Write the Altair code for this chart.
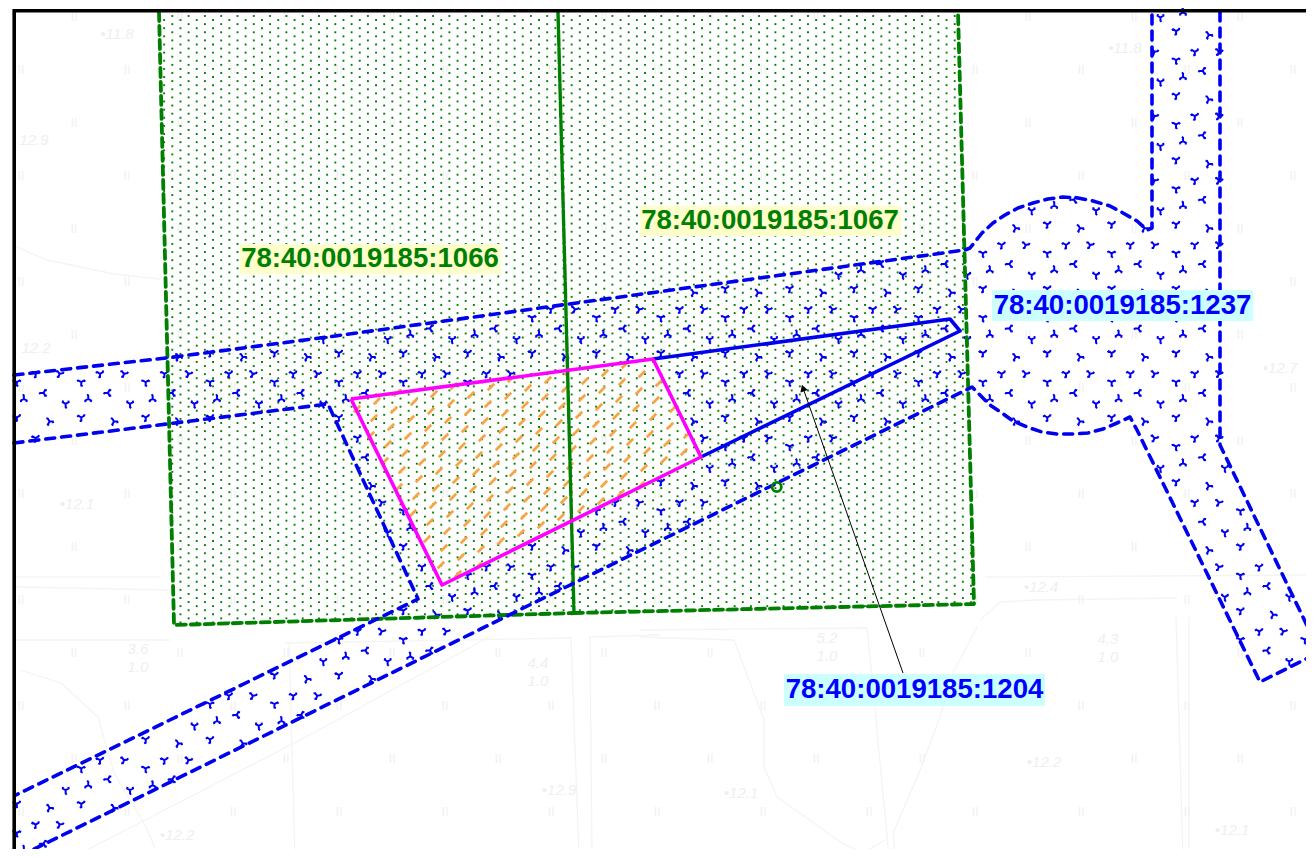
import altair as alt
import pandas as pd

# Outlines, in image pixels
green_left_x = [159, 174, 574]
green_left_y = [12, 625, 613]
green_mid_x = [558, 574]
green_mid_y = [12, 613]
green_right_x = [574, 974, 958]
green_right_y = [613, 604, 12]
blue_outline_x = [14, 166, 320, 635, 965, 970, 982, 993, 1005, 1018, 1033, 1048, 1063, 1078, 1093, 1110, 1123, 1137, 1147, 1152, 1152]
blue_outline_y = [375, 358, 338, 295, 250, 248, 233, 223, 215, 208, 203, 199, 197, 198, 201, 206, 213, 221, 230, 228, 12]
blue_right_x = [1220, 1220, 1314]
blue_right_y = [12, 445, 640]
blue_low_x = [1314, 1260, 1137, 1130, 1117, 1103, 1088, 1073, 1057, 1042, 1027, 1013, 1002, 990, 980, 972, 16]
blue_low_y = [655, 682, 430, 417, 423, 429, 433, 434, 434, 432, 427, 421, 413, 405, 395, 387, 858]
blue_up_x = [14, 328, 418, 16]
blue_up_y = [443, 404, 599, 795]
solid_x = [653, 950, 960, 701]
solid_y = [359, 319, 331, 457]
pink_x = [351, 653, 701, 442, 351]
pink_y = [399, 359, 457, 585, 399]
leader_x = [903, 803]
leader_y = [673, 388]

labels = ["78:40:0019185:1066", "78:40:0019185:1067", "78:40:0019185:1237", "78:40:0019185:1204"]
label_cx = [370, 770, 1122.5, 914.5]
label_cy = [259, 221, 305.5, 690]
label_x1 = [240, 640, 992, 784]
label_x2 = [501, 901, 1253, 1045]
label_y1 = [244, 206, 290, 674]
label_y2 = [274, 236, 321, 706]
label_fill = ["#ffffcc", "#ffffcc", "#ccffff", "#ccffff"]
label_ink = ["#008000", "#008000", "#0000ff", "#0000ff"]

# One repeat of the blue glyph texture, read from the circle area
tile_x = [1047.3, 1080, 1066, 1090, 1047.3, 1074, 1054.3, 1096]
tile_y = [224.3, 228.3, 245, 245, 253.3, 264, 270, 275]
tile_angle = [180, 90, 180, 200, 60, 30, 120, 300]
tile_step = 64.4

faint_text = ["•11.8", "12.9", "12.2", "•12.1", "•11.8", "•12.7", "•12.4", "•12.2", "•12.1", "•12.1", "•12.2", "•12.9",
              "3.6", "1.0", "4.4", "1.0", "5.2", "1.0", "4.3", "1.0"]
faint_x = [117, 34, 36, 77, 1125, 1280, 1041, 1044, 741, 1232, 177, 559, 138, 138, 538, 538, 827, 827, 1108, 1108]
faint_y = [34, 140, 348, 504, 48, 368, 587, 762, 793, 830, 835, 790, 649, 667, 663, 681, 638, 656, 639, 657]
faint_lines = [
    [(17, 247), (47, 260), (114, 274), (160, 279)],
    [(285, 643), (571, 638), (579, 857)],
    [(589, 637), (660, 635)],
    [(590, 637), (592, 857)],
    [(289, 643), (295, 857)],
    [(20, 670), (61, 683), (98, 717), (114, 773), (146, 827), (159, 857)],
    [(73, 857), (151, 817), (306, 737), (489, 637)],
    [(640, 630), (867, 628), (872, 677), (889, 857)],
    [(640, 637), (734, 640), (764, 720), (764, 767), (777, 797), (842, 843), (863, 853), (885, 840)],
    [(977, 627), (953, 673), (940, 717), (919, 773), (893, 833), (895, 857)],
    [(1189, 617), (1189, 857)],
    [(1176, 617), (1183, 857)],
    [(985, 577), (1314, 575)],
    [(1035, 600), (1177, 598)],
    [(16, 577), (160, 577)],
    [(16, 587), (170, 590)],
    [(16, 640), (170, 640)],
    [(980, 620), (1000, 602), (1035, 600)],
]


def inside(px, py, xs, ys):
    hit = False
    n = len(xs)
    for i in range(n):
        j = (i - 1) % n
        if (ys[i] > py) != (ys[j] > py):
            if px < xs[i] + (py - ys[i]) * (xs[j] - xs[i]) / (ys[j] - ys[i]):
                hit = not hit
    return hit


def clear_of_text(x, y):
    for a, b, c, d in zip(label_x1, label_x2, label_y1, label_y2):
        if a - 8 < x < b + 8 and c - 10 < y < d + 10:
            return False
    for a, b in zip(faint_x, faint_y):
        if abs(x - a) < 30 and abs(y - b) < 17:
            return False
    return True


blue_area_x = blue_outline_x + blue_right_x + blue_low_x + [16, 418, 328, 14]
blue_area_y = blue_outline_y + blue_right_y + blue_low_y + [795, 599, 404, 443]

# Repeating hatch textures: regular lattices clipped to their outlines
rows = []
for r in range(-2, 20):
    for c in range(-2, 16):
        x = 74 + c * 106 + (53 if r % 2 else 0)
        y = 17 + r * 53
        if 18 < x < 1296 and 16 < y < 840 and clear_of_text(x, y):
            rows.append({"x": x, "y": y})
faint_marks = pd.DataFrame(rows)

rows = []
green_area_x = [159, 174, 974, 958]
green_area_y = [12, 625, 604, 12]
for r in range(160):
    for c in range(55):
        x = 172.3 - 16.3 + c * 16.3 + (8.15 if r % 2 else 0)
        y = 16 + r * 4.07
        if inside(x, y, green_area_x, green_area_y):
            rows.append({"x": x, "y": y})
green_dots = pd.DataFrame(rows)

rows = []
for tx, ty, ta in zip(tile_x, tile_y, tile_angle):
    for i in range(-18, 6):
        for j in range(-5, 11):
            x = tx + i * tile_step
            y = ty + j * tile_step
            if inside(x, y, blue_area_x, blue_area_y) and not inside(x, y, pink_x[:-1], pink_y[:-1]):
                rows.append({"x": x, "y": y, "a": ta})
blue_glyphs = pd.DataFrame(rows)

rows = []
for i in range(-10, 40):
    for j in range(-10, 40):
        x = 340 + i * 20 - j * 3
        y = 400 - i * 8 + j * 17
        if inside(x, y, pink_x[:-1], pink_y[:-1]):
            rows.append({"x": x, "y": y})
orange_marks = pd.DataFrame(rows)

W, H = 1298, 841
X = alt.Scale(domain=[8, 8 + W], nice=False, zero=False)
Y = alt.Scale(domain=[8 + H, 8], nice=False, zero=False)
ex = alt.X("x:Q", scale=X, axis=None)
ey = alt.Y("y:Q", scale=Y, axis=None)


def path(xs, ys, color, width, dash=None):
    df = pd.DataFrame({"x": xs, "y": ys, "o": range(len(xs))})
    kw = {"color": color, "strokeWidth": width, "clip": True, "strokeCap": "round" if dash else "butt", "strokeJoin": "round"}
    if dash:
        kw["strokeDash"] = dash
    return alt.Chart(df).mark_line(**kw).encode(x=ex, y=ey, order="o:Q")


layers = []
for line in faint_lines:
    layers.append(path([p[0] for p in line], [p[1] for p in line], "#f4f4f4", 1.3))
layers.append(alt.Chart(faint_marks).mark_text(text="II", fontSize=13, font="Liberation Sans", color="#f1f1f1").encode(x=ex, y=ey))
layers.append(alt.Chart(pd.DataFrame({"x": faint_x, "y": faint_y, "t": faint_text})).mark_text(fontSize=15, fontStyle="italic", font="Liberation Sans", color="#efefef").encode(x=ex, y=ey, text="t:N"))

layers.append(alt.Chart(green_dots).mark_point(shape="square", filled=True, size=3.6, color="#008000", opacity=1, clip=True).encode(x=ex, y=ey))

glyph = "M0,0L0,-1L0.5,-1.15M0,0L-0.9,0.55L-1,1M0,0L0.9,0.55L1.3,0.25"
layers.append(alt.Chart(blue_glyphs).mark_point(shape=glyph, filled=False, size=42, strokeWidth=2, color="#0000f0", opacity=1, clip=True).encode(x=ex, y=ey, angle=alt.Angle("a:Q", scale=None)))
layers.append(alt.Chart(orange_marks).mark_point(shape="M-1,1L1,-1", filled=False, size=42, strokeWidth=2.6, color="#f7a445", opacity=1).encode(x=ex, y=ey))

layers.append(path(green_left_x, green_left_y, "#008000", 3.8, [9, 5]))
layers.append(path(green_right_x, green_right_y, "#008000", 3.8, [9, 5]))
layers.append(path(green_mid_x, green_mid_y, "#008000", 3.4, [16, 2]))
layers.append(path(blue_outline_x, blue_outline_y, "#0000f0", 3.6, [9, 7]))
layers.append(path(blue_right_x, blue_right_y, "#0000f0", 3.6, [9, 7]))
layers.append(path(blue_low_x, blue_low_y, "#0000f0", 3.6, [9, 7]))
layers.append(path(blue_up_x, blue_up_y, "#0000f0", 3.6, [9, 7]))
layers.append(path(solid_x, solid_y, "#0000f0", 3.6))
layers.append(path(pink_x, pink_y, "#ff00ff", 3.6))

layers.append(alt.Chart(pd.DataFrame({"x": [776.7], "y": [487]})).mark_point(shape="circle", filled=False, size=85, strokeWidth=2.8, color="#008000", opacity=1).encode(x=ex, y=ey))

layers.append(path(leader_x, leader_y, "#000000", 1))
layers.append(alt.Chart(pd.DataFrame({"x": [leader_x[1]], "y": [leader_y[1]], "a": [-19]})).mark_point(shape="triangle-up", filled=True, size=60, color="#000000", opacity=1).encode(x=ex, y=ey, angle=alt.Angle("a:Q", scale=None)))

lab = pd.DataFrame({"t": labels, "x": label_cx, "y": label_cy, "x1": label_x1, "x2": label_x2, "y1": label_y1, "y2": label_y2, "f": label_fill, "c": label_ink})
layers.append(alt.Chart(lab).mark_rect().encode(x=alt.X("x1:Q", scale=X, axis=None), x2="x2:Q", y=alt.Y("y1:Q", scale=Y, axis=None), y2="y2:Q", color=alt.Color("f:N", scale=None)))
layers.append(alt.Chart(lab).mark_text(font="Liberation Sans", fontWeight="bold", fontSize=27.6, baseline="middle", align="center").encode(x=ex, y=ey, text="t:N", color=alt.Color("c:N", scale=None)))

layers.append(path([14, 1314], [10.8, 10.8], "#000000", 3.6))
layers.append(path([14.2, 14.2], [9, 857], "#000000", 3.6))

chart = alt.layer(*layers).properties(width=W, height=H, padding=0, autosize=alt.AutoSizeParams(type="none"), background="white").configure_view(stroke=None)
chart.save("out.html", embed_options={"renderer": "svg", "actions": False})
